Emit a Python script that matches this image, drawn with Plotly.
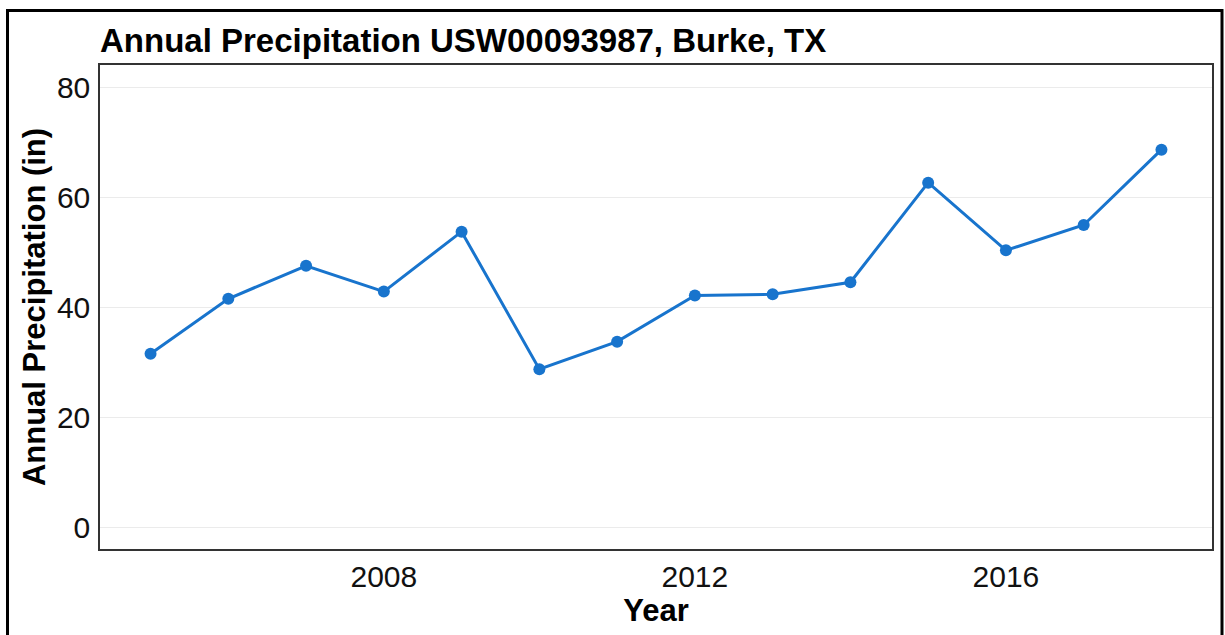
import plotly.graph_objects as go

years = [2005, 2006, 2007, 2008, 2009, 2010, 2011, 2012, 2013, 2014, 2015, 2016, 2017, 2018]
precip_in = [31.5, 41.5, 47.5, 42.8, 53.7, 28.7, 33.7, 42.1, 42.3, 44.5, 62.6, 50.3, 54.9, 68.6]
x_ticks = [2008, 2012, 2016]
y_ticks = [0, 20, 40, 60, 80]

FONT = "Liberation Sans, Arial, sans-serif"
W, H = 1225, 635
L, R, T, B = 100, 1212, 65, 549

fig = go.Figure()
fig.add_trace(go.Scatter(
    x=years, y=precip_in, mode="lines+markers",
    line=dict(color="#1874CD", width=3),
    marker=dict(color="#1874CD", size=12),
    showlegend=False,
))

pw, ph = R - L, B - T
def px(x):
    return (x - L) / pw
def py(y):
    return (B - y) / ph

fig.update_layout(
    width=W, height=H,
    margin=dict(l=L, r=W - R, t=T, b=H - B),
    paper_bgcolor="white", plot_bgcolor="white",
    font=dict(family=FONT, color="black"),
    title=dict(text="<b>Annual Precipitation USW00093987, Burke, TX</b>",
               x=0, xref="paper", xanchor="left",
               y=1 - 40 / H, yref="container", yanchor="middle",
               font=dict(size=33, family=FONT, color="black")),
    xaxis=dict(range=[2004.35, 2018.65], tickvals=x_ticks, ticktext=[str(v) for v in x_ticks],
               showgrid=False, zeroline=False, showline=True, mirror=True,
               linecolor="#333333", linewidth=1.5, ticks="",
               tickfont=dict(size=30, color="#111111"), ticklabelstandoff=0,
               title=dict(text="<b>Year</b>", font=dict(size=31), standoff=0)),
    yaxis=dict(range=[-4, 84], tickvals=y_ticks, ticktext=[str(v) for v in y_ticks],
               showgrid=True, gridcolor="#EBEBEB", gridwidth=1, zeroline=False,
               showline=True, mirror=True, linecolor="#333333", linewidth=1.5, ticks="",
               tickfont=dict(size=30, color="#111111"), ticklabelstandoff=2,
               title=dict(text="<b>Annual Precipitation (in)</b>", font=dict(size=31), standoff=2)),
    shapes=[dict(type="rect", xref="paper", yref="paper",
                 x0=px(7.5), x1=px(1222), y0=py(645), y1=py(10.5),
                 line=dict(color="black", width=3), fillcolor="rgba(0,0,0,0)", layer="above")],
)

fig.write_html("out.html", config={"displayModeBar": False},
               post_script="document.body.style.margin='0';document.body.style.overflow='hidden';")
